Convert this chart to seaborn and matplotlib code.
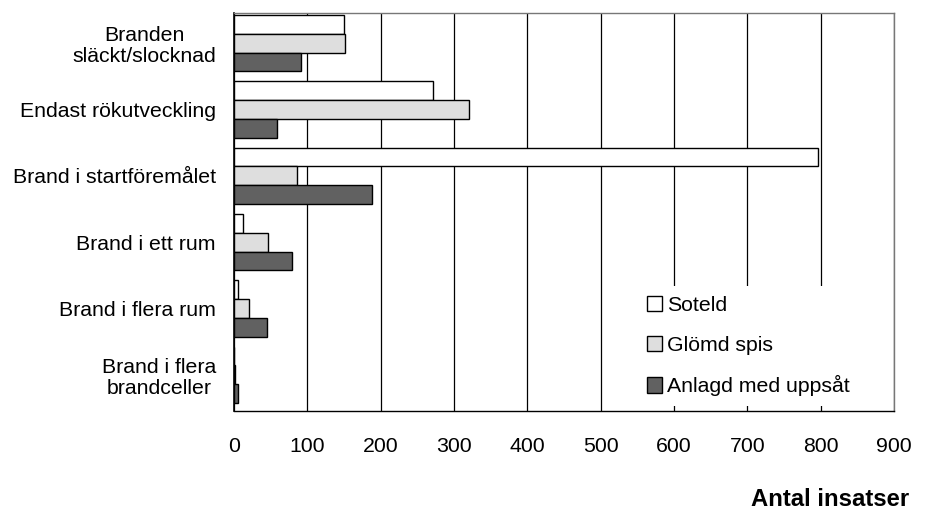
import matplotlib
matplotlib.use("Agg")
import matplotlib.pyplot as plt
import seaborn as sns
import pandas as pd

categories = [
    "Branden\nsläckt/slocknad",
    "Endast rökutveckling",
    "Brand i startföremålet",
    "Brand i ett rum",
    "Brand i flera rum",
    "Brand i flera\nbrandceller",
]
series = ["Soteld", "Glömd spis", "Anlagd med uppsåt"]
soteld = [150, 271, 797, 12, 5, 0]
glomd_spis = [152, 320, 86, 46, 20, 2]
anlagd = [91, 58, 188, 79, 45, 5]
x_ticks = [0, 100, 200, 300, 400, 500, 600, 700, 800, 900]
colors = ["#ffffff", "#dedede", "#616161"]

df = pd.DataFrame({
    "Kategori": categories * 3,
    "Serie": [series[0]] * 6 + [series[1]] * 6 + [series[2]] * 6,
    "Antal": soteld + glomd_spis + anlagd,
})

sns.set_theme(style="white")
plt.rcParams["font.family"] = ["Liberation Sans", "DejaVu Sans"]
plt.rcParams["text.color"] = "black"
plt.rcParams["xtick.color"] = "black"
plt.rcParams["ytick.color"] = "black"

FS = 15.3

fig = plt.figure(figsize=(9.26, 5.16), dpi=100)
ax = fig.add_axes([234 / 926, 1 - 411 / 516, 660 / 926, 398 / 516])

sns.barplot(
    data=df, y="Kategori", x="Antal", hue="Serie", order=categories,
    hue_order=series, palette=colors, orient="h", width=0.85,
    edgecolor="black", linewidth=1.0, ax=ax, legend=True, zorder=3,
)

ax.set_xlim(0, 900)
ax.set_ylim(5.545, -0.455)
ax.set_xticks(x_ticks)
ax.set_xticklabels([str(t) for t in x_ticks], fontsize=FS)
ax.tick_params(axis="x", direction="out", length=6, width=1, color="black", pad=12.5)
ax.tick_params(axis="y", length=0, pad=13)
for lab in ax.get_yticklabels():
    lab.set_fontsize(FS)
    lab.set_multialignment("center")
    lab.set_linespacing(1.15)
ax.xaxis.grid(True, color="black", linewidth=0.9, zorder=0)
ax.set_axisbelow(True)
ax.set_xlabel("")
ax.set_ylabel("")
for side in ["top", "right"]:
    ax.spines[side].set_color("#777777")
    ax.spines[side].set_linewidth(1)
ax.spines["left"].set_color("black")
ax.spines["left"].set_linewidth(1.2)
ax.spines["bottom"].set_color("black")
ax.spines["bottom"].set_linewidth(1)

leg = ax.legend(
    loc="center left", bbox_to_anchor=(0.6115, 0.163), borderaxespad=0,
    frameon=True, facecolor="white", edgecolor="none", framealpha=1,
    fontsize=FS, borderpad=0.45, handlelength=0.72, handleheight=0.72,
    handletextpad=0.22, labelspacing=0.98,
)
leg.set_zorder(5)

fig.text(909 / 926, 1 - 499 / 516, "Antal insatser", ha="right", va="center",
         fontsize=17.2, fontweight="bold")

fig.savefig("out.png", dpi=100, facecolor="white")
